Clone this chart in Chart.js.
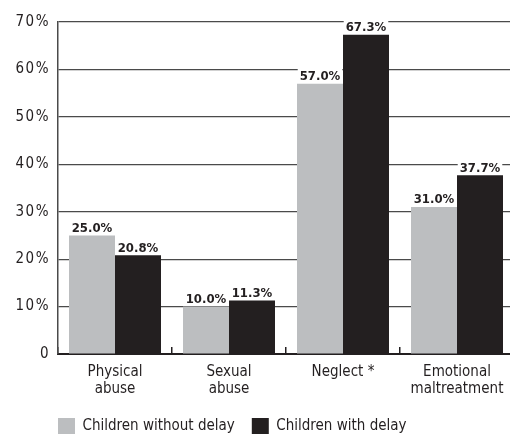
<!DOCTYPE html>
<html>
<head>
<meta charset="utf-8">
<script src="https://cdn.jsdelivr.net/npm/chart.js@4/dist/chart.umd.min.js"></script>
<style>
  html, body { margin: 0; padding: 0; background: #fff; }
  #wrap { width: 510px; height: 437px; overflow: hidden; position: relative; }
  canvas { display: block; }
</style>
</head>
<body>
<div id="wrap"><canvas id="chart" width="514" height="444"></canvas></div>
<script>
// Maltreatment type by developmental delay status (percent of children)
const categories = [['Physical', 'abuse'], ['Sexual', 'abuse'], ['Neglect *'], ['Emotional', 'maltreatment']];
const seriesNames = ['Children without delay', 'Children with delay'];
const withoutDelay = [25.0, 10.0, 57.0, 31.0];
const withDelay = [20.8, 11.3, 67.3, 37.7];
const yTickLabels = ['0', '10%', '20%', '30%', '40%', '50%', '60%', '70%'];

const FONT = "'Liberation Sans Narrow', 'DejaVu Sans Condensed', 'Arial Narrow', sans-serif";
const INK = '#231f20';
const GRAY = '#bcbec0';
const LEGEND_PAD = 17;

// Value labels above each bar, on a white patch that breaks the gridlines
const valueLabels = {
  id: 'valueLabels',
  afterDatasetsDraw(chart) {
    const ctx = chart.ctx;
    ctx.save();
    ctx.font = 'bold 13px ' + FONT;
    ctx.textAlign = 'center';
    ctx.textBaseline = 'alphabetic';
    chart.data.datasets.forEach((ds, di) => {
      chart.getDatasetMeta(di).data.forEach((bar, i) => {
        const txt = ds.data[i].toFixed(1) + '%';
        const w = ctx.measureText(txt).width;
        const base = bar.y - 3.5;
        ctx.fillStyle = '#fff';
        ctx.fillRect(bar.x - w / 2 - 2, base - 12, w + 4, 13);
        ctx.fillStyle = INK;
        ctx.fillText(txt, bar.x, base);
      });
    });
    ctx.restore();
    // y tick labels are drawn on a later layer with a little tracking
    ctx.letterSpacing = '1.5px';
  },
  afterDraw(chart) {
    chart.ctx.letterSpacing = '0px';
  }
};

// Start the legend flush with the plot's left edge
const legendInset = {
  id: 'legendInset',
  afterLayout(chart) {
    if (chart.legend) chart.legend.left = chart.chartArea.left - LEGEND_PAD;
  }
};

new Chart(document.getElementById('chart'), {
  type: 'bar',
  data: {
    labels: categories,
    datasets: [
      { label: seriesNames[0], data: withoutDelay, backgroundColor: GRAY, borderWidth: 0 },
      { label: seriesNames[1], data: withDelay, backgroundColor: INK, borderWidth: 0 }
    ]
  },
  options: {
    responsive: false,
    animation: false,
    devicePixelRatio: 1,
    categoryPercentage: 0.807,
    barPercentage: 1.0,
    layout: { padding: { top: 22, left: 0, right: 0, bottom: 0 } },
    plugins: {
      legend: {
        position: 'bottom',
        align: 'start',
        fullSize: false,
        labels: {
          boxWidth: 17,
          boxHeight: 16,
          padding: LEGEND_PAD,
          color: INK,
          font: { family: FONT, size: 15 }
        }
      },
      tooltip: { enabled: false }
    },
    scales: {
      x: {
        offset: true,
        grid: {
          offset: true,
          drawOnChartArea: false,
          drawTicks: true,
          tickLength: -7,
          color: INK,
          lineWidth: 1.5
        },
        border: { display: true, color: INK, width: 2 },
        ticks: {
          color: INK,
          padding: 16,
          maxRotation: 0,
          autoSkip: false,
          font: { family: FONT, size: 15, lineHeight: 1.15 }
        },
        afterFit(scale) {
          scale.height = 64 - LEGEND_PAD;
          scale.paddingLeft = 0;
          scale.paddingRight = 0;
        }
      },
      y: {
        min: 0,
        max: 70,
        grid: { color: '#4a4a4a', lineWidth: 1.2, drawTicks: false },
        border: { display: true, color: '#4a4a4a', width: 1.5 },
        ticks: {
          stepSize: 10,
          z: 1,
          padding: 8,
          color: INK,
          font: { family: FONT, size: 15 },
          callback: (v, i) => yTickLabels[i]
        },
        afterFit(scale) { scale.width = 58; }
      }
    }
  },
  plugins: [valueLabels, legendInset]
});
</script>
</body>
</html>
